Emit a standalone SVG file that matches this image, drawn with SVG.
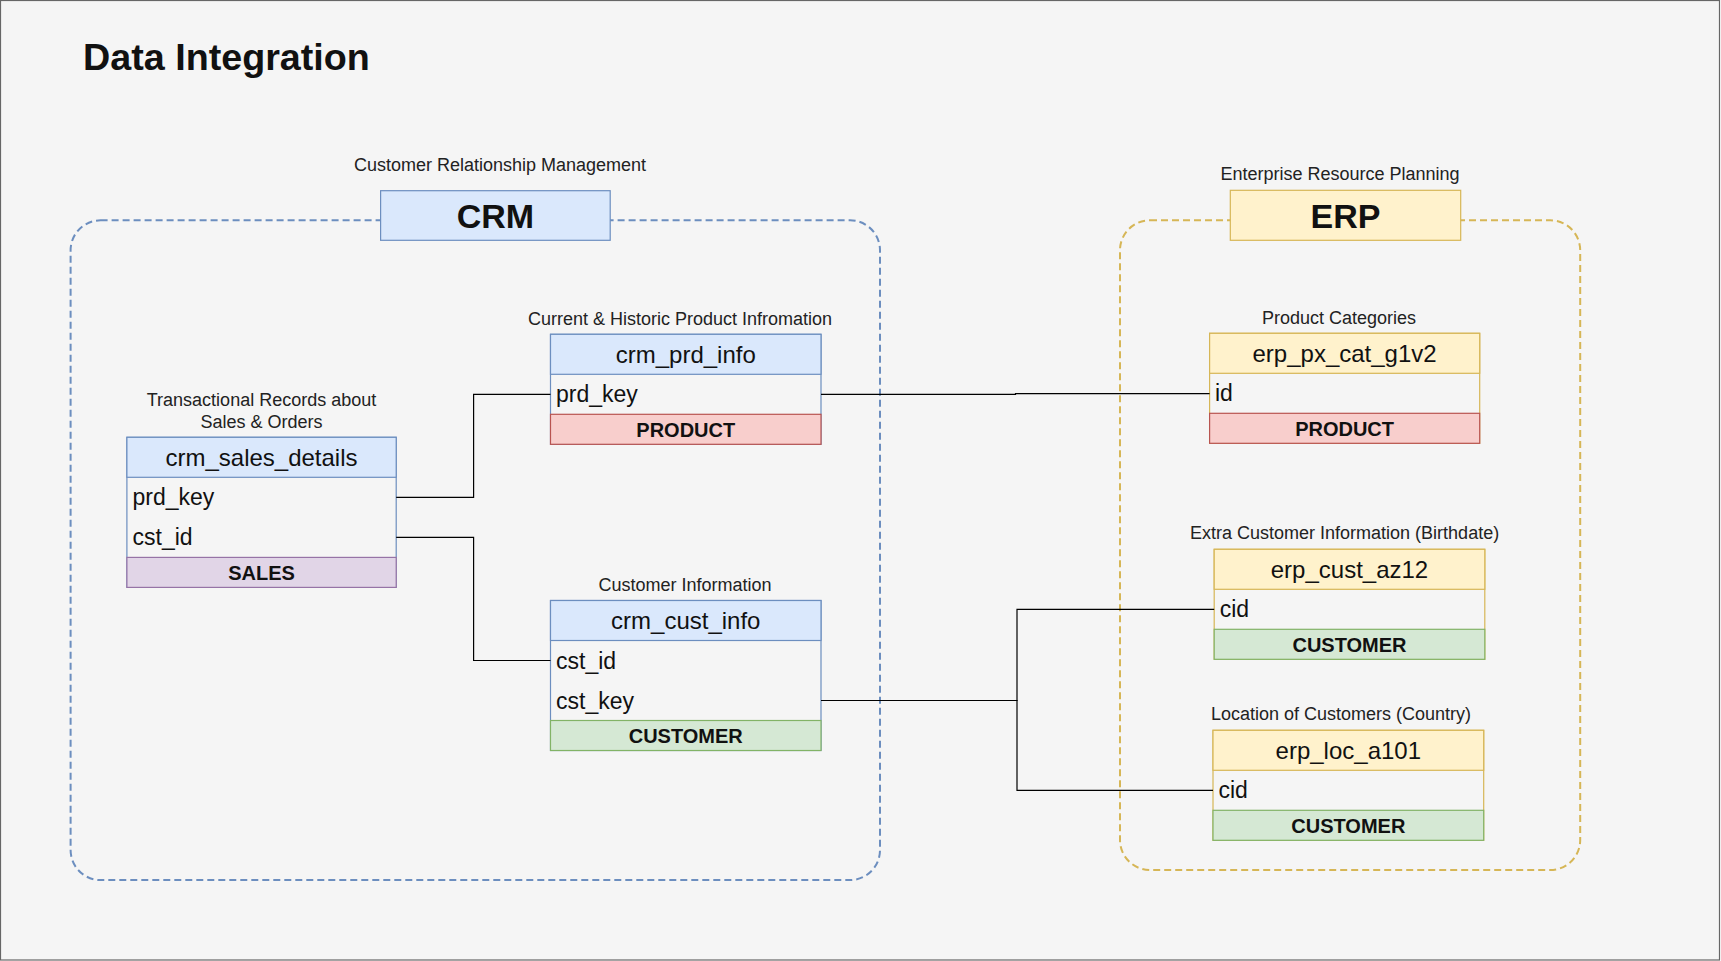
<svg xmlns="http://www.w3.org/2000/svg" width="1721" height="961" viewBox="0 0 1721 961">
<style>
text{font-family:"Liberation Sans",Arial,sans-serif;fill:#111}
.title{font-size:37.7px;font-weight:bold}
.lbl{font-size:18px;text-anchor:middle;fill:#222}
.big{font-size:34px;font-weight:bold;text-anchor:middle}
.hdr{font-size:24px;text-anchor:middle}
.row{font-size:23px}
.ftr{font-size:20px;font-weight:bold;text-anchor:middle}
.bluebox{fill:#dae8fc;stroke:#6c8ebf;stroke-width:1.2}
.yelbox{fill:#fff2cc;stroke:#d6b656;stroke-width:1.2}
.bluet{fill:#f5f5f5;stroke:#6c8ebf;stroke-width:1.2}
.yelt{fill:#f5f5f5;stroke:#d6b656;stroke-width:1.2}
.prod{fill:#f8cecc;stroke:#b85450;stroke-width:1.2}
.cust{fill:#d5e8d4;stroke:#82b366;stroke-width:1.2}
.sales{fill:#e1d5e7;stroke:#9673a6;stroke-width:1.2}
.conn path{fill:none;stroke:#000;stroke-width:1.2}
</style>
<rect x="0.5" y="0.5" width="1719" height="959.5" fill="#f5f5f5" stroke="#666" stroke-width="1.2"/>
<text class="title" x="83" y="70">Data Integration</text>

<g id="crm-group">
<rect x="70.6" y="220.3" width="809.4" height="659.8" rx="30" fill="none" stroke="#6c8ebf" stroke-width="2" stroke-dasharray="7 4"/>
</g>
<g id="erp-group">
<rect x="1120" y="220.3" width="460.2" height="649.7" rx="30" fill="none" stroke="#d6b656" stroke-width="2" stroke-dasharray="7 4"/>
</g>

<g id="crm">
<text class="lbl" x="500" y="170.5">Customer Relationship Management</text>
<rect class="bluebox" x="380.6" y="190.7" width="229.6" height="49.6"/>
<text class="big" x="495.4" y="228">CRM</text>
</g>
<g id="erp">
<text class="lbl" x="1340" y="179.8">Enterprise Resource Planning</text>
<rect class="yelbox" x="1230.3" y="190.3" width="230.4" height="50"/>
<text class="big" x="1345.5" y="228">ERP</text>
</g>

<g id="crm_prd_info">
<text class="lbl" x="680" y="325">Current &amp; Historic Product Infromation</text>
<rect class="bluet" x="550.5" y="334.3" width="270.5" height="110"/>
<rect class="bluebox" x="550.5" y="334.3" width="270.5" height="40"/>
<text class="hdr" x="685.75" y="362.7">crm_prd_info</text>
<text class="row" x="556" y="402.3">prd_key</text>
<rect class="prod" x="550.5" y="414.3" width="270.5" height="30"/>
<text class="ftr" x="685.75" y="436.5">PRODUCT</text>
</g>

<g id="crm_sales_details">
<text class="lbl" x="261.5" y="406">Transactional Records about</text>
<text class="lbl" x="261.5" y="428.3">Sales &amp; Orders</text>
<rect class="bluet" x="126.9" y="437.3" width="269.3" height="150"/>
<rect class="bluebox" x="126.9" y="437.3" width="269.3" height="40"/>
<text class="hdr" x="261.5" y="465.7">crm_sales_details</text>
<text class="row" x="132.5" y="505.3">prd_key</text>
<text class="row" x="132.5" y="545.4">cst_id</text>
<rect class="sales" x="126.9" y="557.4" width="269.3" height="30"/>
<text class="ftr" x="261.5" y="579.6">SALES</text>
</g>

<g id="crm_cust_info">
<text class="lbl" x="685" y="591.4">Customer Information</text>
<rect class="bluet" x="550.5" y="600.5" width="270.5" height="150"/>
<rect class="bluebox" x="550.5" y="600.5" width="270.5" height="40"/>
<text class="hdr" x="685.75" y="628.9">crm_cust_info</text>
<text class="row" x="556" y="668.5">cst_id</text>
<text class="row" x="556" y="708.5">cst_key</text>
<rect class="cust" x="550.5" y="720.5" width="270.5" height="30"/>
<text class="ftr" x="685.75" y="742.7">CUSTOMER</text>
</g>

<g id="erp_px_cat_g1v2">
<text class="lbl" x="1339" y="324">Product Categories</text>
<rect class="yelt" x="1209.6" y="333.3" width="270.1" height="110"/>
<rect class="yelbox" x="1209.6" y="333.3" width="270.1" height="40"/>
<text class="hdr" x="1344.6" y="361.7">erp_px_cat_g1v2</text>
<text class="row" x="1215" y="401.3">id</text>
<rect class="prod" x="1209.6" y="413.3" width="270.1" height="30"/>
<text class="ftr" x="1344.6" y="435.5">PRODUCT</text>
</g>

<g id="erp_cust_az12">
<text class="lbl" x="1344.6" y="539.3">Extra Customer Information (Birthdate)</text>
<rect class="yelt" x="1214.2" y="549.3" width="270.6" height="110"/>
<rect class="yelbox" x="1214.2" y="549.3" width="270.6" height="40"/>
<text class="hdr" x="1349.5" y="577.7">erp_cust_az12</text>
<text class="row" x="1219.7" y="617.3">cid</text>
<rect class="cust" x="1214.2" y="629.3" width="270.6" height="30"/>
<text class="ftr" x="1349.5" y="651.5">CUSTOMER</text>
</g>

<g id="erp_loc_a101">
<text class="lbl" x="1341" y="720">Location of Customers (Country)</text>
<rect class="yelt" x="1213" y="730.3" width="270.7" height="110"/>
<rect class="yelbox" x="1213" y="730.3" width="270.7" height="40"/>
<text class="hdr" x="1348.3" y="758.7">erp_loc_a101</text>
<text class="row" x="1218.5" y="798.3">cid</text>
<rect class="cust" x="1213" y="810.3" width="270.7" height="30"/>
<text class="ftr" x="1348.3" y="832.5">CUSTOMER</text>
</g>

<g id="connectors" class="conn">
<path d="M396.2,497.3 H473.6 V394.3 H550.5"/>
<path d="M396.2,537.4 H473.6 V660.5 H550.5"/>
<path d="M821,394.3 H1015.5 V393.7 H1209.6"/>
<path d="M821,700.5 H1017 V609.3 H1214.2"/>
<path d="M821,700.5 H1017 V790.3 H1213"/>
</g>
</svg>
